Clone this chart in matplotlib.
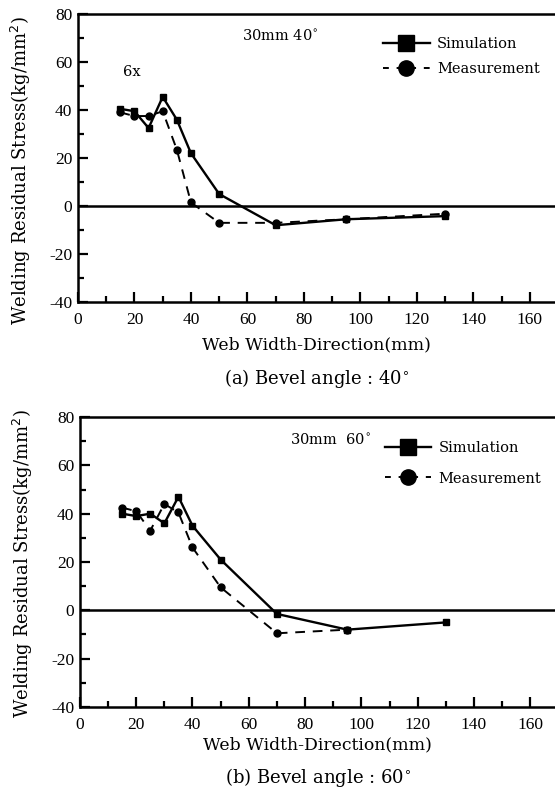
import matplotlib
matplotlib.use("Agg")
import matplotlib.pyplot as plt
from matplotlib.lines import Line2D
from matplotlib.ticker import MultipleLocator

plt.rcParams['font.family'] = ['DejaVu Serif']
plt.rcParams['axes.unicode_minus'] = False

# (a) bevel angle 40
x_sim_a = [15, 20, 25, 30, 35, 40, 50, 70, 95, 130]
y_sim_a = [40.5, 39.5, 32.5, 45.5, 36, 22, 5, -8, -5.5, -4.2]
x_mea_a = [15, 20, 25, 30, 35, 40, 50, 70, 95, 130]
y_mea_a = [39, 37.5, 37.5, 39.5, 23.5, 1.5, -7, -7, -5.5, -3.2]

# (b) bevel angle 60
x_sim_b = [15, 20, 25, 30, 35, 40, 50, 70, 95, 130]
y_sim_b = [40, 39, 40, 36, 47, 35, 21, -1.5, -8, -5]
x_mea_b = [15, 20, 25, 30, 35, 40, 50, 70, 95]
y_mea_b = [42.5, 41, 33, 44, 40.5, 26, 9.5, -9.5, -8]

panels = [
    dict(rect=[0.1405, 0.6196, 0.86, 0.3627], xs=x_sim_a, ys=y_sim_a, xm=x_mea_a, ym=y_mea_a,
         note="30mm 40$^{\\circ}$", note_xy=(58, 70.5), caption="(a) Bevel angle : 40$^{\\circ}$",
         cap_y=-0.264, extra="6x", leg=(0.639, 0.92), lspace=0.75, ylab_y=0.455, xlpad=6),
    dict(rect=[0.144, 0.1096, 0.857, 0.3652], xs=x_sim_b, ys=y_sim_b, xm=x_mea_b, ym=y_mea_b,
         note="30mm  60$^{\\circ}$", note_xy=(74.5, 70.5), caption="(b) Bevel angle : 60$^{\\circ}$",
         cap_y=-0.244, extra=None, leg=(0.641, 0.918), lspace=1.15, ylab_y=0.493, xlpad=3),
]

fig = plt.figure(figsize=(5.55, 7.94), dpi=100)

for p in panels:
    ax = fig.add_axes(p["rect"])
    ax.axhline(0, color="black", lw=1.8)
    ax.plot(p["xs"], p["ys"], "-", color="black", lw=1.7, marker="s", ms=5)
    ax.plot(p["xm"], p["ym"], "--", color="black", lw=1.4, marker="o", ms=5, dashes=(5, 4))
    ax.set_xlim(0, 169)
    ax.set_ylim(-40, 80)
    ax.xaxis.set_major_locator(MultipleLocator(20))
    ax.xaxis.set_minor_locator(MultipleLocator(10))
    ax.yaxis.set_major_locator(MultipleLocator(20))
    ax.yaxis.set_minor_locator(MultipleLocator(10))
    ax.tick_params(which="both", direction="in", width=1.6)
    ax.tick_params(which="major", length=7)
    ax.tick_params(which="minor", length=4)
    ax.tick_params(axis="x", pad=7)
    ax.tick_params(axis="y", pad=4)
    for lab in ax.get_xticklabels() + ax.get_yticklabels():
        lab.set_fontfamily("Liberation Serif")
        lab.set_fontsize(12.5)
    ax.spines["right"].set_visible(False)
    for s in ["left", "bottom", "top"]:
        ax.spines[s].set_linewidth(1.8)
    ax.set_ylabel("Welding Residual Stress(kg/mm$^2$)", fontsize=13)
    ax.yaxis.set_label_coords(-0.095, p["ylab_y"])
    ax.set_xlabel("Web Width-Direction(mm)", fontsize=12.4, labelpad=p["xlpad"])
    ax.text(p["note_xy"][0], p["note_xy"][1], p["note"], fontsize=10.5, va="center")
    if p["extra"]:
        ax.text(16, 56, p["extra"], fontsize=10.5, va="center")
    handles = [
        Line2D([], [], color="black", lw=1.7, marker="s", ms=11, ls="-"),
        Line2D([], [], color="black", lw=1.4, marker="o", ms=11, ls="--", dashes=(3, 4)),
    ]
    ax.legend(handles, ["Simulation", "Measurement"], loc="upper left",
              bbox_to_anchor=p["leg"], frameon=False, fontsize=10.5,
              handlelength=3.2, handletextpad=0.5, labelspacing=p["lspace"],
              borderpad=0, borderaxespad=0)
    ax.text(0.5, p["cap_y"], p["caption"], transform=ax.transAxes, ha="center",
            va="center", fontsize=13)

fig.savefig("out.png", dpi=100)
